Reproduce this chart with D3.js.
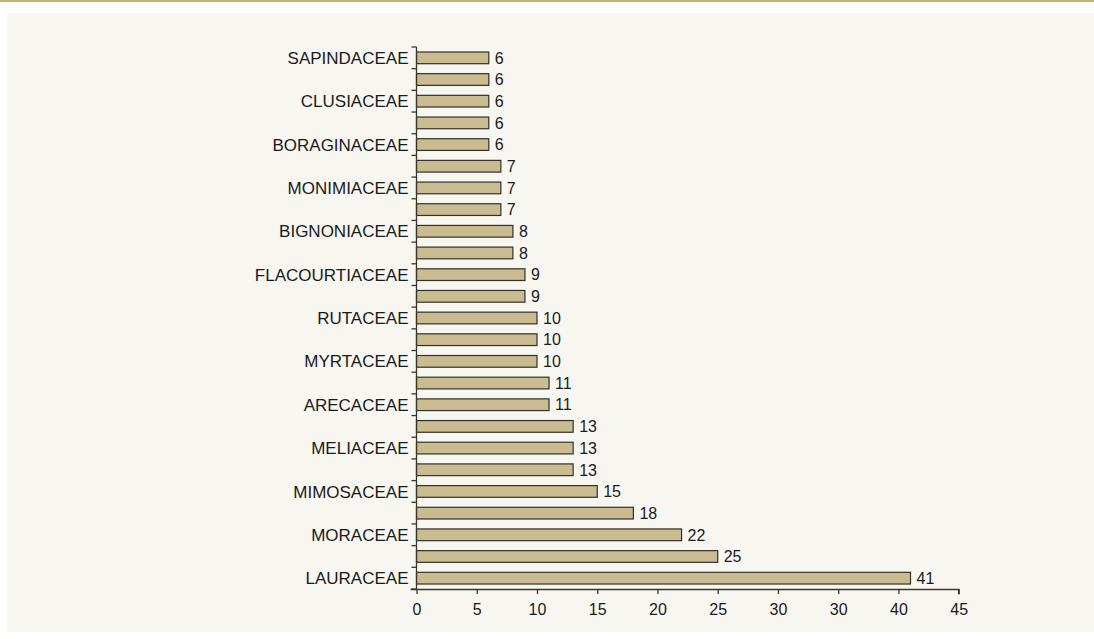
<!DOCTYPE html>
<html>
<head>
<meta charset="utf-8">
<script src="https://cdn.jsdelivr.net/npm/d3@7"></script>
<style>
  html, body { margin: 0; padding: 0; background: #ffffff; }
  svg { display: block; }
  text { font-family: "Liberation Sans", Arial, Helvetica, sans-serif; fill: #1a1a1a; }
</style>
</head>
<body>
<svg id="chart" width="1094" height="639"></svg>
<script>
// Data (bottom to top)
const categories = ["LAURACEAE","c2","MORACEAE","c4","MIMOSACEAE","c6","MELIACEAE","c8","ARECACEAE","c10","MYRTACEAE","c12","RUTACEAE","c14","FLACOURTIACEAE","c16","BIGNONIACEAE","c18","MONIMIACEAE","c20","BORAGINACEAE","c22","CLUSIACEAE","c24","SAPINDACEAE"];
const categoryLabels = ["LAURACEAE","","MORACEAE","","MIMOSACEAE","","MELIACEAE","","ARECACEAE","","MYRTACEAE","","RUTACEAE","","FLACOURTIACEAE","","BIGNONIACEAE","","MONIMIACEAE","","BORAGINACEAE","","CLUSIACEAE","","SAPINDACEAE"];
const values = [41,25,22,18,15,13,13,13,11,11,10,10,10,9,9,8,8,7,7,7,6,6,6,6,6];
const tickValues = [0,5,10,15,20,25,30,35,40,45];
const tickLabels = ["0","5","10","15","20","25","30","30","40","45"];

const svg = d3.select("#chart");

// top rule and panel
svg.append("rect").attr("x",0).attr("y",0).attr("width",1094).attr("height",2).attr("fill","#c9ae6c");
svg.append("rect").attr("x",7).attr("y",13).attr("width",1087).attr("height",619).attr("fill","#f7f6f1");

const x0 = 416.5, x1 = 958.7, yTop = 47, yBot = 589;

const x = d3.scaleLinear().domain([0,45]).range([x0, x1]);
const y = d3.scaleBand().domain(categories).range([yBot, yTop]).paddingInner(0.46).paddingOuter(0.23);
const step = (yBot - yTop) / categories.length;

// bars
svg.append("g").selectAll("rect").data(values).join("rect")
  .attr("x", x(0))
  .attr("y", (d,i) => y(categories[i]))
  .attr("width", d => x(d) - x(0))
  .attr("height", y.bandwidth())
  .attr("fill", "#c9bc90")
  .attr("stroke", "#33312a")
  .attr("stroke-width", 1.2);

// value labels
svg.append("g").selectAll("text").data(values).join("text")
  .attr("x", d => x(d) + 6)
  .attr("y", (d,i) => y(categories[i]) + y.bandwidth()/2)
  .attr("dy", "0.36em")
  .attr("font-size", 16)
  .text(d => d);

// x axis
const xAxis = d3.axisBottom(x).tickValues(tickValues).tickSize(5).tickPadding(10)
  .tickFormat((d,i) => tickLabels[i]);
const gx = svg.append("g").attr("transform", `translate(0,${yBot})`).call(xAxis);
gx.select(".domain").attr("stroke","#3a3628").attr("stroke-width",1.3)
  .attr("d", `M${x0-6},0.5H${x1}V5.5`);
gx.selectAll(".tick line").attr("stroke","#3a3628").attr("stroke-width",1.3);
gx.selectAll(".tick text").attr("font-size",16).style("font-family","'Liberation Sans', Arial, sans-serif").attr("fill","#1a1a1a");

// y axis line + boundary ticks
const gy = svg.append("g");
gy.append("line").attr("x1",x0).attr("x2",x0).attr("y1",yTop).attr("y2",yBot)
  .attr("stroke","#3a3628").attr("stroke-width",1.3);
gy.selectAll("line.t").data(d3.range(categories.length + 1)).join("line")
  .attr("class","t")
  .attr("x1", x0 - 5).attr("x2", x0)
  .attr("y1", i => yBot - i*step).attr("y2", i => yBot - i*step)
  .attr("stroke","#3a3628").attr("stroke-width",1.3);

// category labels
gy.selectAll("text").data(categories).join("text")
  .attr("x", x0 - 8)
  .attr("y", d => y(d) + y.bandwidth()/2)
  .attr("dy","0.36em")
  .attr("text-anchor","end")
  .attr("font-size", 17)
  .text((d,i) => categoryLabels[i]);
</script>
</body>
</html>
